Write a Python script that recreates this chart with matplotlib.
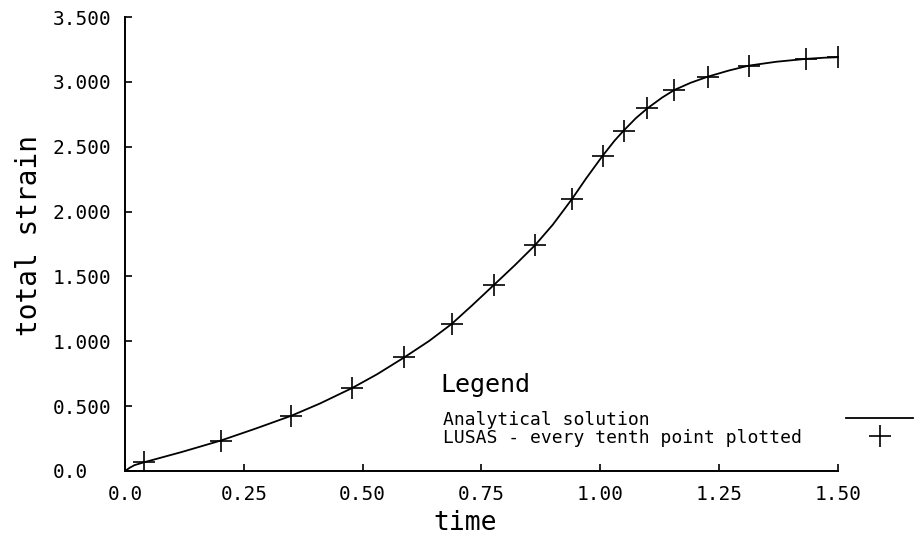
import matplotlib.pyplot as plt

# Analytische Lösung
t_analytical = [0.0, 0.01, 0.02, 0.039, 0.12, 0.201, 0.275, 0.350, 0.41, 0.477,
                0.53, 0.588, 0.64, 0.687, 0.73, 0.776, 0.82, 0.863, 0.90, 0.940,
                0.97, 1.005, 1.03, 1.049, 1.075, 1.099, 1.13, 1.156, 1.19, 1.226,
                1.27, 1.312, 1.37, 1.432, 1.47, 1.500]
strain_analytical = [0.0, 0.025, 0.045, 0.066, 0.147, 0.234, 0.327, 0.426, 0.520, 0.638,
                     0.745, 0.877, 1.003, 1.133, 1.276, 1.434, 1.586, 1.742, 1.899, 2.095,
                     2.255, 2.431, 2.547, 2.624, 2.721, 2.796, 2.879, 2.938, 2.993, 3.040,
                     3.087, 3.125, 3.155, 3.177, 3.186, 3.190]

# LUSAS - jeder zehnte Punkt
t_lusas = [0.0, 0.039, 0.201, 0.350, 0.477, 0.588, 0.687, 0.776, 0.863, 0.940,
           1.005, 1.049, 1.099, 1.156, 1.226, 1.312, 1.432, 1.500]
strain_lusas = [0.0, 0.066, 0.234, 0.426, 0.638, 0.877, 1.133, 1.434, 1.742, 2.095,
                2.431, 2.624, 2.796, 2.938, 3.040, 3.125, 3.177, 3.190]

x_ticks = [0.0, 0.25, 0.50, 0.75, 1.00, 1.25, 1.50]
x_ticklabels = ['0.0', '0.25', '0.50', '0.75', '1.00', '1.25', '1.50']
y_ticks = [0.0, 0.5, 1.0, 1.5, 2.0, 2.5, 3.0, 3.5]
y_ticklabels = ['0.0', '0.500', '1.000', '1.500', '2.000', '2.500', '3.000', '3.500']

label_analytical = 'Analytical solution'
label_lusas = 'LUSAS - every tenth point plotted'

plt.rcParams['font.family'] = ['DejaVu Sans Mono', 'DejaVu Sans']

fig = plt.figure(figsize=(9.21, 5.40), dpi=100)
ax = fig.add_axes([0.1357, 0.1278, 0.7742, 0.8407])

# Monospace: gleich lange Beschriftungen -> linksbündig in der Legende
width = max(len(label_analytical), len(label_lusas))
ax.plot(t_analytical, strain_analytical, color='black', linewidth=1.3,
        label=label_analytical.ljust(width))
ax.plot(t_lusas, strain_lusas, linestyle='none', marker='+', markersize=16,
        markeredgewidth=1.2, color='black',
        label=label_lusas.ljust(width))

ax.set_xlim(0, 1.5)
ax.set_ylim(0, 3.5)
ax.set_xticks(x_ticks)
ax.set_xticklabels(x_ticklabels)
ax.set_yticks(y_ticks)
ax.set_yticklabels(y_ticklabels)

for side in ['top', 'right']:
    ax.spines[side].set_visible(False)
for side in ['left', 'bottom']:
    ax.spines[side].set_linewidth(1.4)

ax.tick_params(axis='x', direction='in', length=5, width=1.2, pad=10, labelsize=14)
ax.tick_params(axis='y', direction='in', length=5, width=1.2, pad=52, labelsize=14)
for lbl in ax.get_yticklabels():
    lbl.set_horizontalalignment('left')

ax.set_xlabel('time', fontsize=19)
ax.xaxis.set_label_coords(0.477, -0.085)
ax.set_ylabel('total strain', fontsize=20)
ax.yaxis.set_label_coords(-0.115, 0.518)

ax.text(0.443, 0.174, 'Legend', transform=ax.transAxes, fontsize=18,
        ha='left', va='baseline')
ax.legend(loc='upper left', bbox_to_anchor=(0.446, 0.133), frameon=False,
          fontsize=13, markerfirst=False, handlelength=3.7, handletextpad=2.45,
          labelspacing=0.0, borderpad=0, borderaxespad=0)

plt.savefig('out.png', dpi=100)
